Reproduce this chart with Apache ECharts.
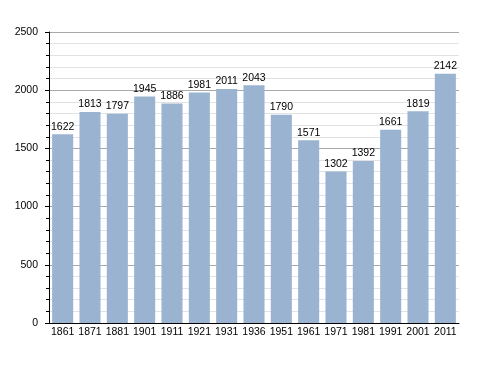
<!DOCTYPE html>
<html><head><meta charset="utf-8">
<script src="https://cdn.jsdelivr.net/npm/echarts@6/dist/echarts.min.js"></script>
<style>html,body{margin:0;padding:0;background:#fff}#c{width:488px;height:373px}</style>
</head><body><div id="c"></div>
<script>
const years = ['1861','1871','1881','1901','1911','1921','1931','1936','1951','1961','1971','1981','1991','2001','2011'];
const population = [1622,1813,1797,1945,1886,1981,2011,2043,1790,1571,1302,1392,1661,1819,2142];
const yTicks = [0,500,1000,1500,2000,2500];

const chart = echarts.init(document.getElementById('c'));
chart.setOption({
  animation:false,
  grid:{left:49,right:29,top:32,bottom:50},
  xAxis:{type:'category',data:years,
    axisLine:{lineStyle:{color:'#000',width:1}},
    axisTick:{show:false},
    axisLabel:{color:'#000',fontFamily:'Liberation Sans, Arial',fontSize:10.5,margin:4,interval:0}},
  yAxis:{type:'value',min:yTicks[0],max:yTicks[yTicks.length-1],interval:500,
    axisLine:{show:true,lineStyle:{color:'#000',width:1}},
    axisTick:{show:true,inside:false,length:4,lineStyle:{color:'#000'}},
    minorTick:{show:true,splitNumber:5,length:3,lineStyle:{color:'#000'}},
    splitLine:{show:true,lineStyle:{color:'#a8a8a8',width:1}},
    minorSplitLine:{show:true,lineStyle:{color:'#e2e2e2',width:1}},
    axisLabel:{color:'#000',fontFamily:'Liberation Sans, Arial',fontSize:10.5,margin:11,formatter:v=>String(v)}},
  series:[{type:'bar',data:population,barWidth:'77%',
    itemStyle:{color:'#9ab3d0'},
    label:{show:true,position:'top',distance:2,color:'#000',fontFamily:'Liberation Sans, Arial',fontSize:10.5}}]
});
</script></body></html>
